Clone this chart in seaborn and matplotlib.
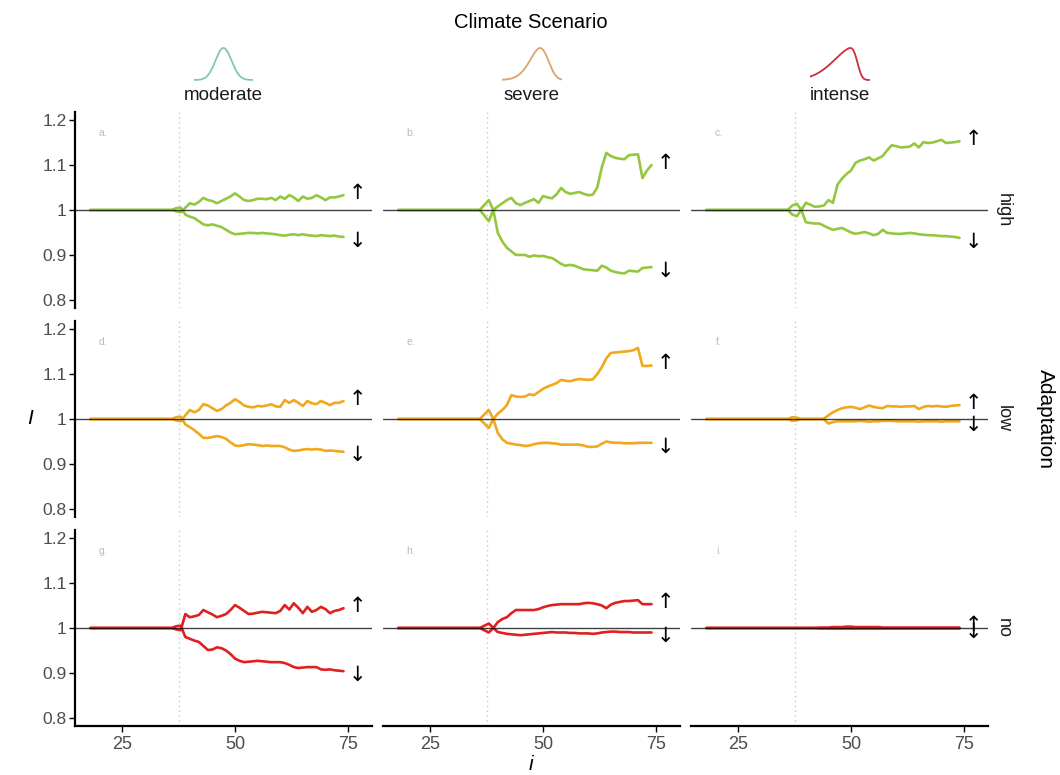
import numpy as np
import pandas as pd
import matplotlib
matplotlib.use("Agg")
import matplotlib.pyplot as plt
import seaborn as sns
from math import erf

# ---------------- data ----------------
SCENARIOS = ["moderate", "severe", "intense"]
ADAPTATIONS = ["high", "low", "no"]
PANEL_TAGS = [["a.", "b.", "c."], ["d.", "e.", "f."], ["g.", "h.", "i."]]
I_FLAT_START = 18
I_STEPS = list(range(36, 75))
SHOCK_I = 37.5
Y_TICKS = [0.8, 0.9, 1.0, 1.1, 1.2]
Y_TICK_LABELS = ["0.8", "0.9", "1", "1.1", "1.2"]
X_TICKS = [25, 50, 75]

UP_A = [1.0, 0.997, 0.995, 1.005, 1.015, 1.012, 1.018, 1.027, 1.022, 1.020,
        1.015, 1.020, 1.025, 1.030, 1.037, 1.030, 1.022, 1.020, 1.022, 1.025,
        1.025, 1.024, 1.027, 1.022, 1.030, 1.025, 1.033, 1.028, 1.020, 1.030,
        1.025, 1.027, 1.033, 1.028, 1.022, 1.028, 1.028, 1.030, 1.033]
DOWN_A = [1.0, 1.004, 1.005, 0.990, 0.985, 0.982, 0.975, 0.968, 0.966, 0.968,
          0.965, 0.962, 0.956, 0.950, 0.946, 0.947, 0.948, 0.949, 0.949, 0.948,
          0.949, 0.948, 0.947, 0.946, 0.944, 0.943, 0.945, 0.946, 0.944, 0.946,
          0.944, 0.943, 0.942, 0.944, 0.943, 0.942, 0.943, 0.941, 0.940]
UP_B = [1.0, 0.988, 0.975, 1.000, 1.008, 1.015, 1.022, 1.027, 1.015, 1.011,
        1.016, 1.020, 1.024, 1.016, 1.031, 1.028, 1.026, 1.035, 1.049, 1.040,
        1.036, 1.038, 1.040, 1.036, 1.033, 1.034, 1.050, 1.095, 1.127, 1.120,
        1.116, 1.114, 1.113, 1.122, 1.123, 1.124, 1.071, 1.088, 1.100]
DOWN_B = [1.0, 1.011, 1.022, 1.000, 0.949, 0.930, 0.916, 0.908, 0.900, 0.900,
          0.900, 0.896, 0.899, 0.897, 0.898, 0.895, 0.893, 0.887, 0.880, 0.876,
          0.878, 0.876, 0.872, 0.868, 0.867, 0.866, 0.865, 0.876, 0.872, 0.865,
          0.862, 0.860, 0.859, 0.865, 0.864, 0.863, 0.871, 0.872, 0.873]
UP_C = [1.0, 0.990, 0.986, 1.000, 1.016, 1.012, 1.007, 1.008, 1.010, 1.022,
        1.016, 1.056, 1.070, 1.080, 1.088, 1.105, 1.110, 1.113, 1.117, 1.110,
        1.115, 1.120, 1.133, 1.144, 1.142, 1.139, 1.140, 1.141, 1.148, 1.139,
        1.151, 1.149, 1.150, 1.153, 1.156, 1.149, 1.150, 1.151, 1.153]
DOWN_C = [1.0, 1.010, 1.014, 1.000, 0.973, 0.971, 0.970, 0.970, 0.965, 0.960,
          0.956, 0.958, 0.960, 0.955, 0.950, 0.947, 0.949, 0.951, 0.948, 0.944,
          0.947, 0.956, 0.949, 0.948, 0.947, 0.947, 0.948, 0.949, 0.948, 0.946,
          0.945, 0.944, 0.944, 0.943, 0.942, 0.942, 0.941, 0.940, 0.938]
UP_D = [1.0, 0.997, 0.995, 1.008, 1.020, 1.015, 1.020, 1.033, 1.030, 1.024,
        1.018, 1.022, 1.030, 1.036, 1.044, 1.038, 1.030, 1.027, 1.026, 1.029,
        1.028, 1.030, 1.033, 1.028, 1.027, 1.042, 1.036, 1.042, 1.036, 1.029,
        1.040, 1.035, 1.033, 1.040, 1.036, 1.031, 1.036, 1.036, 1.040]
DOWN_D = [1.0, 1.004, 1.005, 0.988, 0.982, 0.975, 0.967, 0.958, 0.958, 0.960,
          0.962, 0.960, 0.956, 0.948, 0.941, 0.940, 0.942, 0.944, 0.943, 0.942,
          0.940, 0.941, 0.940, 0.940, 0.940, 0.937, 0.932, 0.929, 0.930, 0.932,
          0.933, 0.932, 0.933, 0.932, 0.929, 0.930, 0.929, 0.928, 0.927]
UP_E = [1.0, 0.990, 0.980, 1.000, 1.012, 1.020, 1.031, 1.053, 1.050, 1.049,
        1.050, 1.055, 1.053, 1.060, 1.067, 1.072, 1.076, 1.080, 1.087, 1.085,
        1.084, 1.087, 1.089, 1.088, 1.087, 1.088, 1.100, 1.115, 1.135, 1.147,
        1.148, 1.149, 1.150, 1.151, 1.153, 1.158, 1.118, 1.118, 1.119]
DOWN_E = [1.0, 1.010, 1.020, 1.000, 0.969, 0.955, 0.947, 0.945, 0.943, 0.942,
          0.940, 0.941, 0.944, 0.946, 0.947, 0.947, 0.946, 0.945, 0.943, 0.943,
          0.943, 0.943, 0.943, 0.941, 0.938, 0.938, 0.939, 0.945, 0.950, 0.948,
          0.947, 0.947, 0.946, 0.946, 0.946, 0.947, 0.947, 0.947, 0.947]
UP_F = [1.0, 1.004, 1.003, 1.000, 1.000, 1.000, 1.000, 1.000, 1.001, 1.008,
        1.015, 1.020, 1.024, 1.026, 1.027, 1.025, 1.022, 1.026, 1.030, 1.027,
        1.025, 1.024, 1.029, 1.028, 1.028, 1.027, 1.028, 1.028, 1.029, 1.022,
        1.027, 1.029, 1.028, 1.029, 1.028, 1.027, 1.029, 1.030, 1.031]
DOWN_F = [1.0, 0.996, 0.997, 1.000, 1.000, 1.000, 1.000, 1.000, 0.999, 0.990,
          0.993, 0.995, 0.995, 0.995, 0.995, 0.995, 0.996, 0.995, 0.994, 0.995,
          0.995, 0.996, 0.996, 0.996, 0.995, 0.995, 0.995, 0.995, 0.995, 0.994,
          0.995, 0.995, 0.995, 0.995, 0.994, 0.995, 0.995, 0.995, 0.995]
UP_G = [1.0, 0.997, 0.995, 1.031, 1.024, 1.026, 1.029, 1.040, 1.035, 1.030,
        1.024, 1.027, 1.031, 1.040, 1.051, 1.045, 1.038, 1.031, 1.032, 1.034,
        1.036, 1.035, 1.034, 1.033, 1.038, 1.051, 1.041, 1.055, 1.045, 1.033,
        1.047, 1.036, 1.040, 1.047, 1.042, 1.033, 1.038, 1.040, 1.044]
DOWN_G = [1.0, 1.004, 1.005, 0.980, 0.976, 0.972, 0.969, 0.960, 0.951, 0.952,
          0.957, 0.955, 0.950, 0.942, 0.932, 0.927, 0.924, 0.925, 0.926, 0.927,
          0.926, 0.925, 0.924, 0.924, 0.924, 0.922, 0.918, 0.913, 0.911, 0.912,
          0.913, 0.913, 0.913, 0.908, 0.907, 0.908, 0.906, 0.905, 0.904]
UP_H = [1.0, 0.995, 0.990, 1.000, 1.013, 1.020, 1.024, 1.033, 1.040, 1.040,
        1.040, 1.040, 1.040, 1.042, 1.046, 1.049, 1.051, 1.052, 1.053, 1.053,
        1.053, 1.053, 1.053, 1.055, 1.056, 1.055, 1.053, 1.050, 1.044, 1.052,
        1.056, 1.058, 1.060, 1.060, 1.061, 1.062, 1.053, 1.053, 1.053]
DOWN_H = [1.0, 1.005, 1.010, 1.000, 0.991, 0.989, 0.987, 0.986, 0.985, 0.984,
          0.985, 0.986, 0.987, 0.988, 0.989, 0.990, 0.991, 0.990, 0.990, 0.990,
          0.989, 0.989, 0.988, 0.988, 0.988, 0.987, 0.988, 0.990, 0.991, 0.992,
          0.992, 0.991, 0.991, 0.991, 0.990, 0.990, 0.990, 0.990, 0.990]
UP_I = [1.0, 1.000, 1.000, 1.000, 1.000, 1.000, 1.000, 1.001, 1.001, 1.001,
        1.002, 1.002, 1.002, 1.003, 1.003, 1.002, 1.002, 1.002, 1.002, 1.002,
        1.002, 1.001, 1.001, 1.001, 1.001, 1.001, 1.001, 1.001, 1.001, 1.001,
        1.001, 1.001, 1.001, 1.001, 1.001, 1.001, 1.001, 1.001, 1.001]
DOWN_I = [1.0, 1.000, 1.000, 1.000, 1.000, 1.000, 1.000, 0.999, 0.999, 0.999,
          0.999, 0.999, 0.999, 0.999, 0.999, 0.999, 0.999, 0.999, 0.999, 0.999,
          0.999, 0.999, 0.999, 0.999, 0.999, 0.999, 0.999, 0.999, 0.999, 0.999,
          0.999, 0.999, 0.999, 0.999, 0.999, 0.999, 0.999, 0.999, 0.999]

SERIES = [[(UP_A, DOWN_A), (UP_B, DOWN_B), (UP_C, DOWN_C)],
          [(UP_D, DOWN_D), (UP_E, DOWN_E), (UP_F, DOWN_F)],
          [(UP_G, DOWN_G), (UP_H, DOWN_H), (UP_I, DOWN_I)]]

# header distribution icons (skew-normal parameters, in icon px units)
ICON_LOC = [0.0, 16.0, 18.0]
ICON_SCALE = [8.0, 14.0, 22.0]
ICON_SKEW = [0.0, -2.0, -6.0]

# ---------------- style ----------------
LINE_COLORS = ["#93C83E", "#F0A81C", "#E0201E"]
ICON_COLORS = ["#82C8AC", "#D8A56C", "#C8303C"]
TICK_COLOR = "#4D4D4D"

sns.set_theme(style="white")
plt.rcParams["font.family"] = ["Liberation Sans", "DejaVu Sans"]

rows = []
for r, adapt in enumerate(ADAPTATIONS):
    for c, scen in enumerate(SCENARIOS):
        for name, vals in zip(["up", "down"], SERIES[r][c]):
            assert len(vals) == len(I_STEPS)
            xs = [I_FLAT_START] + I_STEPS
            ys = [1.0] + list(vals)
            for x, y in zip(xs, ys):
                rows.append(dict(adaptation=adapt, scenario=scen, direction=name, i=x, I=y))
df = pd.DataFrame(rows)

W, H = 1060, 775
fig = plt.figure(figsize=(W / 100, H / 100), dpi=100)


def frac(x, y, w, h):
    return [x / W, 1 - (y + h) / H, w / W, h / H]


AX_LEFTS = [75, 383, 691]
AX_W = 297
AX_TOPS = [112, 321, 530]
AX_H = 196
XLIM = (14.6, 80.3)
YLIM = (0.782, 1.218)

for r, adapt in enumerate(ADAPTATIONS):
    for c, scen in enumerate(SCENARIOS):
        ax = fig.add_axes(frac(AX_LEFTS[c], AX_TOPS[r], AX_W, AX_H))
        ax.set_facecolor("none")
        ax.axvline(SHOCK_I, color="#C8C8C8", lw=1.0, ls=(0, (1, 2.5)), zorder=0)
        sub = df[(df.adaptation == adapt) & (df.scenario == scen)]
        sns.lineplot(data=sub, x="i", y="I", units="direction", estimator=None,
                     color=LINE_COLORS[r], lw=1.9, ax=ax, legend=False, zorder=2)
        ax.axhline(1.0, color="black", lw=1.0, alpha=0.75, zorder=3)
        ax.set_xlim(*XLIM)
        ax.set_ylim(*YLIM)
        ax.set_xlabel("")
        ax.set_ylabel("")
        for s in ["top", "right"]:
            ax.spines[s].set_visible(False)
        # panel tag
        ax.text(20.8, 1.172, PANEL_TAGS[r][c], fontsize=7.5, color="#BBBBBB",
                ha="center", va="center")
        # direction arrows
        up, down = SERIES[r][c]
        ax.text(77.0, up[-1] + 0.005, "\u2191", ha="center", va="center",
                fontsize=15, color="black", family=["DejaVu Sans"])
        ax.text(77.0, down[-1] - 0.008, "\u2193", ha="center", va="center",
                fontsize=15, color="black", family=["DejaVu Sans"])
        if c == 0:
            ax.spines["left"].set_linewidth(1.6)
            ax.spines["left"].set_color("black")
            ax.set_yticks(Y_TICKS)
            ax.set_yticklabels(Y_TICK_LABELS)
            ax.tick_params(axis="y", which="both", left=True, length=4, width=1.0,
                           color="black", labelsize=12.5, labelcolor=TICK_COLOR, pad=2)
        else:
            ax.spines["left"].set_visible(False)
            ax.set_yticks([])
        if r == 2:
            ax.spines["bottom"].set_linewidth(1.6)
            ax.spines["bottom"].set_color("black")
            ax.set_xticks(X_TICKS)
            ax.tick_params(axis="x", which="both", bottom=True, length=4, width=1.0,
                           color="black", labelsize=13, labelcolor=TICK_COLOR, pad=3)
        else:
            ax.spines["bottom"].set_visible(False)
            ax.set_xticks([])
        if c == 2:
            fig.text(1003 / W, 1 - (AX_TOPS[r] + AX_H / 2) / H, adapt, rotation=270,
                     ha="center", va="center", fontsize=13, color="#1A1A1A")

# header icons
icon_x = np.linspace(-30, 30, 241)
for c, scen in enumerate(SCENARIOS):
    cx = AX_LEFTS[c] + AX_W / 2
    iax = fig.add_axes(frac(cx - 30, 46, 60, 36))
    z = (icon_x - ICON_LOC[c]) / ICON_SCALE[c]
    phi = np.exp(-0.5 * z ** 2)
    Phi = np.array([0.5 * (1 + erf(ICON_SKEW[c] * v / np.sqrt(2))) for v in z])
    dens = phi * Phi
    dens = dens / dens.max()
    sns.lineplot(x=icon_x, y=dens, ax=iax, color=ICON_COLORS[c], lw=1.3)
    iax.set_xlim(-30, 30)
    iax.set_ylim(-0.0625, 1.0625)
    iax.axis("off")
    fig.text(cx / W, 1 - 95 / H, scen, ha="center", va="center", fontsize=13.5,
             color="#1A1A1A")

fig.text(531 / W, 1 - 22 / H, "Climate Scenario", ha="center", va="center",
         fontsize=14.5, color="black")
fig.text(1045 / W, 1 - 419 / H, "Adaptation", ha="center", va="center",
         rotation=270, fontsize=15, color="black")
fig.text(30 / W, 1 - 419 / H, "I", ha="center", va="center", fontsize=15,
         style="italic", color="black")
fig.text(531 / W, 1 - 764 / H, "i", ha="center", va="center", fontsize=15,
         style="italic", color="black")

fig.savefig("out.png", dpi=100)
